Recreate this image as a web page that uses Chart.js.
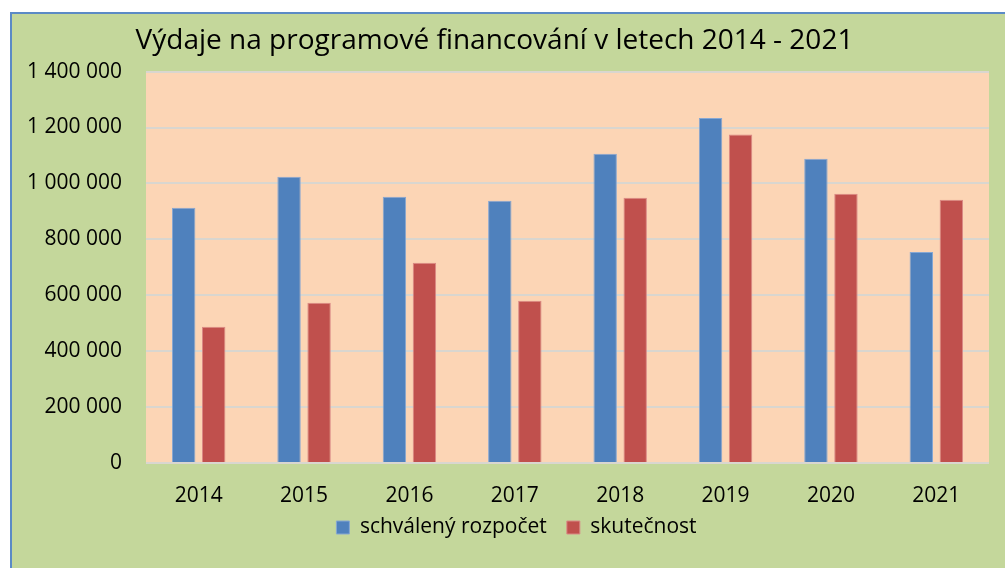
<!DOCTYPE html>
<html>
<head>
<meta charset="utf-8">
<script src="https://cdn.jsdelivr.net/npm/chart.js@4"></script>
<style>
  html, body { margin: 0; padding: 0; background: #fff; }
  body { width: 1005px; height: 568px; position: relative; overflow: hidden; }
  #frame {
    position: absolute; left: 10px; top: 12px; right: -4px; bottom: -4px;
    background: #C4D79B; border: 2px solid #5B8AC6;
  }
  #wrap { position: absolute; left: 0; top: 0; width: 1005px; height: 568px; }
</style>
</head>
<body>
<div id="frame"></div>
<div id="wrap"><canvas id="chart"></canvas></div>
<script>
// Data
const years = ['2014', '2015', '2016', '2017', '2018', '2019', '2020', '2021'];
const approvedBudget = [913000, 1024000, 952000, 938000, 1106000, 1234000, 1088000, 755000];
const actualSpending = [487000, 573000, 716000, 580000, 949000, 1175000, 963000, 942000];
const yTicks = [0, 200000, 400000, 600000, 800000, 1000000, 1200000, 1400000];

const FONT = 'Open Sans';

// light orange plot area like the Excel original
const plotBackground = {
    id: 'plotBackground',
    beforeDraw(chart) {
        const { ctx, chartArea: a } = chart;
        ctx.save();
        ctx.fillStyle = '#FCD5B5';
        ctx.fillRect(a.left, a.top, a.right - a.left, a.bottom - a.top);
        ctx.restore();
    }
};

// legend sits close under the year labels and a bit right of centre, as in Excel
const layoutTweaks = {
    id: 'layoutTweaks',
    afterLayout(chart) {
        chart.scales.x.bottom += 24;   // don't clip the year labels
        chart.legend.left += 22;
        chart.legend.right += 22;
    }
};

const fmt = v => String(v).replace(/\B(?=(\d{3})+(?!\d))/g, ' ');

new Chart(document.getElementById('chart'), {
    type: 'bar',
    data: {
        labels: years,
        datasets: [
            {
                label: 'schválený rozpočet',
                data: approvedBudget,
                backgroundColor: '#4F81BD',
                borderColor: '#86A7D3',
                borderWidth: 1,
                borderSkipped: 'bottom'
            },
            {
                label: 'skutečnost',
                data: actualSpending,
                backgroundColor: '#C0504D',
                borderColor: '#DA8986',
                borderWidth: 1,
                borderSkipped: 'bottom'
            }
        ]
    },
    options: {
        responsive: true,
        maintainAspectRatio: false,
        animation: false,
        categoryPercentage: 0.57,
        barPercentage: 0.78,
        layout: { padding: { left: 0, right: 16, top: 0, bottom: 20 } },
        scales: {
            x: {
                afterFit: scale => { scale.height = 34; },
                grid: { display: false },
                border: { display: false },
                ticks: { color: '#000', font: { family: FONT, size: 21 }, padding: 12 }
            },
            y: {
                min: 0,
                max: 1400000,
                afterBuildTicks: scale => { scale.ticks = yTicks.map(v => ({ value: v })); },
                afterFit: scale => { scale.width = 146; },
                grid: { color: '#D9D6CF', lineWidth: 2, drawTicks: false },
                border: { display: false },
                ticks: { color: '#000', font: { family: FONT, size: 21 }, padding: 24, callback: v => fmt(v) }
            }
        },
        plugins: {
            title: {
                display: true,
                text: 'Výdaje na programové financování v letech 2014 - 2021',
                color: '#000',
                font: { family: FONT, size: 28, weight: 'normal' },
                padding: { top: 24, bottom: 14 }
            },
            legend: {
                position: 'bottom',
                labels: {
                    color: '#000',
                    font: { family: FONT, size: 21 },
                    boxWidth: 13,
                    boxHeight: 13,
                    padding: 20
                }
            },
            tooltip: { enabled: false }
        }
    },
    plugins: [plotBackground, layoutTweaks]
});
</script>
</body>
</html>
